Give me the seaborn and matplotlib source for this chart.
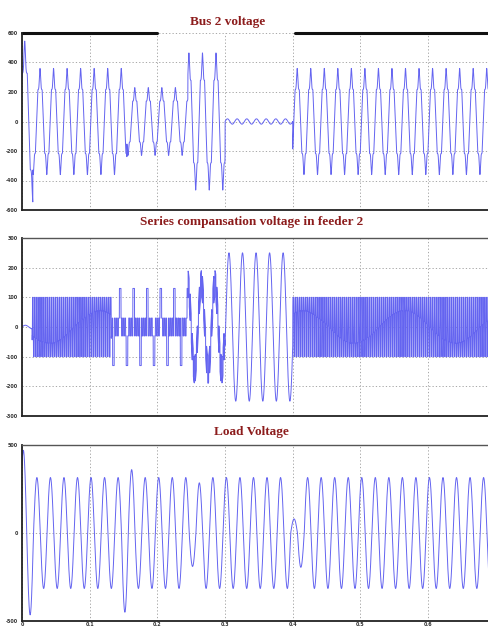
import numpy as np
import pandas as pd
import matplotlib
matplotlib.use("Agg")
import matplotlib.pyplot as plt
import seaborn as sns

# ---------------- values ----------------
t_end = 0.69
fundamental_hz = 50
x_ticks = [0, 0.1, 0.2, 0.3, 0.4, 0.5, 0.6]
x_tick_labels = ["0", "0.1", "0.2", "0.3", "0.4", "0.5", "0.6"]

titles = ["Bus 2 voltage", "Series compansation voltage in feeder 2", "Load Voltage"]

# Bus 2 voltage: piecewise peak values (normal, sag, swell, interruption, normal)
bus2_ticks = [-600, -400, -200, 0, 200, 400, 600]
bus2_seg_start = [0.0, 0.016, 0.155, 0.245, 0.300, 0.400]
bus2_seg_peak = [545, 360, 230, 465, 18, 360]
bus2_spike_time = 0.0266           # instant of a positive spike
bus2_first_peak_time = 0.004       # start-up transient
bus2_first_half_period = 0.012
bus2_interrupt_ripple_hz = 70

# Series compensation voltage in feeder 2
series_ticks = [-300, -200, -100, 0, 100, 200, 300]
series_seg_start = [0.0, 0.015, 0.132, 0.245, 0.300, 0.400]
series_seg_peak = [6, 100, 130, 190, 250, 100]
series_seg_kind = ["ripple", "pwm", "pulse", "mixed", "sine", "pwm"]
series_carrier_hz = 330
series_beat_hz = 6.67
series_beat_peak_time = 0.115
series_beat_amp = 55
series_inner_band = 30
series_sine_peak_time = 0.0058
series_pulse_time = 0.005

# Load voltage: base peak and individual disturbed half cycles
load_ticks = [-500, 0, 500]
load_peak_time = 0.002
load_base_peak = 315
load_half_cycle_t = [0.002, 0.012, 0.152, 0.162, 0.252, 0.262, 0.402, 0.412]
load_half_cycle_peak = [470, 465, 450, 360, 190, 285, 80, 195]

# ---------------- build the waveforms ----------------
t = np.linspace(0, t_end, 40001)
w = 2 * np.pi * fundamental_hz


def seg_lookup(starts, vals):
    idx = np.searchsorted(starts, t, side="right") - 1
    return np.asarray(vals)[idx]


def spiky(s):
    return 0.6 * np.clip(1.8 * s, -1, 1) + 0.4 * np.sign(s) * np.abs(s) ** 14


# Bus 2
A1 = seg_lookup(bus2_seg_start, bus2_seg_peak).astype(float)
bus2 = A1 * spiky(np.cos(w * (t - bus2_spike_time)))
m = t < bus2_seg_start[1]
bus2[m] = A1[m] * spiky(np.cos(np.pi * (t[m] - bus2_first_peak_time) / bus2_first_half_period))
m = (t >= bus2_seg_start[4]) & (t < bus2_seg_start[5])
bus2[m] = A1[m] * np.sin(2 * np.pi * bus2_interrupt_ripple_hz * (t[m] - bus2_seg_start[4]))

# Series compensation
A2 = seg_lookup(series_seg_start, series_seg_peak).astype(float)
kind = seg_lookup(series_seg_start, np.arange(len(series_seg_kind)))
series = np.zeros_like(t)
carrier = np.sin(2 * np.pi * series_carrier_hz * t)
for k, name in enumerate(series_seg_kind):
    m = kind == k
    tt, A, c = t[m], A2[m], carrier[m]
    if name == "ripple":
        v = A * np.sin(w * tt)
    elif name == "pwm":
        s = series_beat_amp * np.cos(2 * np.pi * series_beat_hz * (tt - series_beat_peak_time))
        pos = np.clip((c - 0.25) / 0.2, 0, 1)
        neg = np.clip((-c - 0.25) / 0.2, 0, 1)
        v = s + pos * (A - s) - neg * (A + s)
    elif name == "pulse":
        ph = np.cos(w * (tt - series_pulse_time))
        v = series_inner_band * np.sign(c)
        v = np.where(ph > 0.93, A, v)
        v = np.where(ph < -0.93, -A, v)
    elif name == "mixed":
        v = (A - 45) * np.cos(w * (tt - series_pulse_time)) + 45 * np.sign(c)
    else:  # sine
        v = A * np.cos(w * (tt - series_sine_peak_time))
    series[m] = v

# Load
A3 = np.full_like(t, float(load_base_peak))
for tc, amp in zip(load_half_cycle_t, load_half_cycle_peak):
    A3[np.abs(t - tc) < 0.005] = amp
load = A3 * np.cos(w * (t - load_peak_time))

df = pd.DataFrame({"t": t, "bus2": bus2, "series": series, "load": load})

# ---------------- draw ----------------
sns.set_style("white")
plt.rcParams["font.family"] = ["DejaVu Sans"]

fig = plt.figure(figsize=(4.89, 6.33), dpi=100)
left = 22 / 489
width = 1 - left
boxes = [(33, 210), (238, 416), (445, 621)]
cols = ["bus2", "series", "load"]
yticks = [bus2_ticks, series_ticks, load_ticks]
title_xy = [(227.5, 22), (252, 222), (251, 432)]
line_color = "#6464f0"

for i, (top, bot) in enumerate(boxes):
    ax = fig.add_axes([left, 1 - bot / 633, width, (bot - top) / 633])
    sns.lineplot(data=df, x="t", y=cols[i], ax=ax, color=line_color,
                 linewidth=0.7, estimator=None, sort=False)
    yt = yticks[i]
    ax.set_xlim(0, t_end)
    ax.set_ylim(yt[0], yt[-1])
    ax.set_xticks(x_ticks)
    ax.set_yticks(yt)
    ax.set_yticklabels([str(v) for v in yt], fontsize=3.5, color="#333333",
                       fontweight="bold")
    if i == 2:
        ax.set_xticklabels(x_tick_labels, fontsize=3.5, color="#333333",
                           fontweight="bold")
    else:
        ax.set_xticklabels([])
    ax.set_xlabel("")
    ax.set_ylabel("")
    ax.grid(True, linestyle=(0, (1.5, 2.5)), color="#9a9a9a", linewidth=0.6)
    ax.tick_params(axis="x", direction="in", length=4, width=0.6, color="#777777", pad=1)
    ax.tick_params(axis="y", direction="out", length=2, width=0.6, color="#333333", pad=1)
    ax.spines["right"].set_visible(False)
    for sp in ["left", "bottom"]:
        ax.spines[sp].set_color("#222222")
        ax.spines[sp].set_linewidth(1.3)
    if i == 0:
        ax.spines["top"].set_visible(False)
        ax.axhline(yt[-1], xmin=0, xmax=(157 - 22) / 467, color="#111111", lw=2.2, clip_on=False)
        ax.axhline(yt[-1], xmin=(295 - 22) / 467, xmax=1, color="#111111", lw=2.2, clip_on=False)
    else:
        ax.spines["top"].set_color("#555555")
        ax.spines["top"].set_linewidth(1.0)
    tx, ty = title_xy[i]
    fig.text(tx / 489, 1 - ty / 633, titles[i], ha="center", va="center",
             fontsize=9.5, fontweight="bold", color="#8c1c1c",
             family=["Liberation Serif", "DejaVu Serif"])

fig.savefig("out.png", dpi=100)
